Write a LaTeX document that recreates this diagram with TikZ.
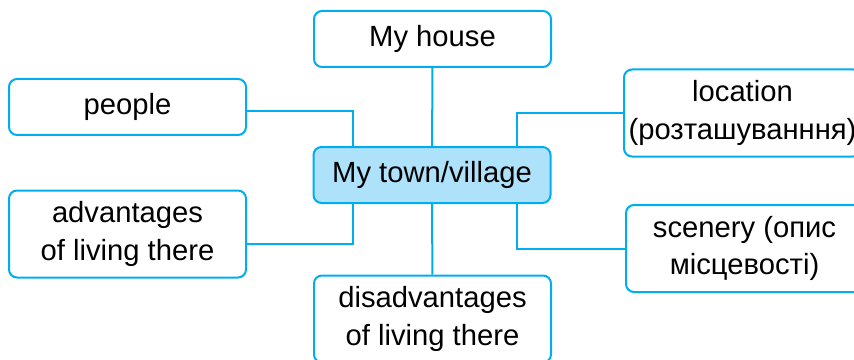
\documentclass[tikz,border=0pt]{standalone}
\usepackage{fontspec}
\setmainfont{Liberation Sans}
\usepackage{xcolor}
\usepackage{tikz}
\definecolor{mapline}{RGB}{0,174,239}
\definecolor{mapfill}{RGB}{174,226,250}

\begin{document}
\begin{tikzpicture}[x=0.5pt, y=0.5pt,
    box/.style={draw=mapline, line width=1pt, rounded corners=4pt, fill=white,
      minimum width=118.5pt, minimum height=28pt, inner sep=0pt, align=center,
      font=\fontsize{14.6}{18.6}\selectfont},
    tallbox/.style={box, minimum height=43.5pt},
    hub/.style={box, fill=mapfill},
    link/.style={mapline, line width=1pt}]
    \useasboundingbox (0,0) rectangle (854,359);
    \clip (0,0) rectangle (854,359);

    % Centre
    \node[hub] (town) at (432,184) {My town/village};

    % Boxes round it
    \node[box] (house) at (432.5,320) {My house};
    \node[box] (people) at (127.5,252) {people};
    \node[tallbox] (adv) at (127.5,125) {advantages\\of living there};
    \node[tallbox] (disadv) at (432.5,40) {disadvantages\\of living there};
    \node[tallbox] (loc) at (742.5,246) {location\\(розташуванння)};
    \node[tallbox] (scen) at (744.5,110.5) {scenery (опис\\місцевості)};

    % Links
    \draw[link] (house) -- (town);
    \draw[link] (town) -- (disadv);
    \draw[link] ([yshift=-2pt]people.east) -| ([xshift=20pt]town.north west);
    \draw[link] ([yshift=-5pt]adv.east) -| ([xshift=20pt]town.south west);
    \draw[link] ([xshift=-17.5pt]town.north east) |- (loc.west);
    \draw[link] ([xshift=-17.5pt]town.south east) |- (scen.west);
\end{tikzpicture}
\end{document}
